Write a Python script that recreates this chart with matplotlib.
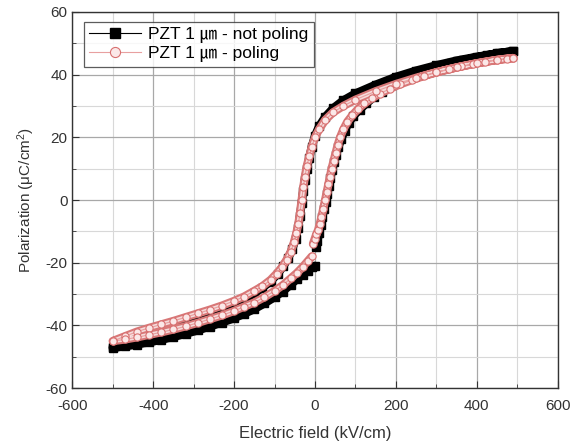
import matplotlib
matplotlib.use("Agg")
import matplotlib.pyplot as plt
from matplotlib.ticker import MultipleLocator

plt.rcParams['font.family'] = ['Liberation Sans', 'Noto Sans CJK KR', 'DejaVu Sans']
plt.rcParams['mathtext.fontset'] = 'custom'
plt.rcParams['mathtext.rm'] = 'Liberation Sans'
plt.rcParams['mathtext.it'] = 'Liberation Sans'
plt.rcParams['axes.unicode_minus'] = False

# ---- data: not poling (black squares), loop path order ----
np_E_up = [3, 6, 10, 14, 18, 22, 26, 30, 34, 38, 42, 47, 52, 58, 65, 73, 83, 95, 110, 127,
           145, 165, 190, 215, 245, 275, 305, 335, 365, 395, 425, 455, 480, 490]
np_P_up = [-15, -13, -10.5, -8, -5.5, -3, -0.5, 2, 4.5, 7, 9.5, 12, 14.5, 17, 19.5, 22, 24.5,
           26.8, 28.8, 30.8, 32.8, 34.6, 36.6, 38.2, 39.8, 41.2, 42.5, 43.7, 44.6, 45.4, 46.2,
           46.9, 47.3, 47.5]
np_E_down = [490, 450, 400, 350, 300, 250, 200, 150, 100, 70, 45, 25, 10, 0, -8, -14, -20, -25,
             -29, -33, -37, -42, -48, -56, -66, -78, -92, -110, -130, -150, -175, -200, -230,
             -260, -290, -320, -350, -380, -410, -440, -470, -500]
np_P_down = [47.5, 46.8, 45.7, 44.5, 43, 41.3, 39.3, 36.8, 34, 31.8, 29.3, 26.5, 23.5, 20.5, 17,
             13.5, 10, 6.5, 3, -1, -5, -9, -12.5, -15.5, -18.5, -21, -23.5, -26, -28, -29.8,
             -31.7, -33.3, -35, -36.5, -37.9, -39.2, -40.5, -41.8, -43, -44.3, -45.7, -47]
np_E_back = [-500, -470, -440, -410, -380, -350, -320, -290, -260, -230, -200, -175, -150,
             -125, -100, -80, -60, -45, -30, -18, -8, 0]
np_P_back = [-47.2, -46.7, -46.1, -45.4, -44.6, -43.7, -42.7, -41.6, -40.4, -39.1, -37.7,
             -36.3, -34.8, -33, -31, -29.2, -27, -25.3, -23.8, -22.5, -21.5, -21]

# ---- data: poling (pink open circles) ----
p_E_up = [-5, -1, 3, 8, 12, 16, 20, 25, 29, 33, 37, 41, 46, 51, 56, 62, 70, 80, 92, 106, 122,
          140, 160, 185, 210, 240, 270, 300, 330, 360, 390, 420, 450, 475, 490]
p_P_up = [-14, -12.5, -11, -9.5, -7.5, -5.5, -3, 0, 2.5, 5, 7.5, 10, 12.5, 15, 17.5, 20, 22.5,
          25, 27, 29, 30.8, 32.4, 33.9, 35.5, 36.9, 38.3, 39.6, 40.7, 41.7, 42.6, 43.4, 44.1,
          44.7, 45.1, 45.3]
p_E_down = [490, 450, 400, 350, 300, 250, 200, 150, 100, 70, 45, 25, 10, 0, -8, -14, -20, -25,
            -29, -33, -37, -41, -46, -52, -60, -70, -82, -95, -110, -130, -150, -175, -200,
            -230, -260, -290, -320, -350, -380, -410, -440, -470, -500]
p_P_down = [45.3, 44.7, 43.6, 42.3, 40.8, 39, 37, 34.7, 32, 30, 28, 25.5, 22.5, 20, 17, 14, 11,
            7.5, 4, 0, -4, -7.5, -10.5, -13.5, -16.5, -19, -21.5, -23.5, -25.5, -27.5, -29,
            -30.8, -32.2, -33.7, -35, -36.2, -37.4, -38.6, -39.7, -40.8, -42, -43.5, -45]
p_E_back = [-500, -470, -440, -410, -380, -350, -320, -290, -260, -230, -200, -175, -150, -125,
            -100, -80, -60, -45, -30, -18, -8]
p_P_back = [-45, -44.5, -43.8, -43, -42.2, -41.3, -40.3, -39.2, -38, -36.8, -35.4, -34, -32.7,
            -31, -29, -27.2, -25, -23.3, -21.3, -19.5, -18]

labels = ["PZT 1 \u339b - not poling", "PZT 1 \u339b - poling"]

fig = plt.figure(figsize=(5.78, 4.43), dpi=100)
ax = fig.add_axes([0.125, 0.124, 0.840, 0.849])

np_E = np_E_up + np_E_down + np_E_back
np_P = np_P_up + np_P_down + np_P_back
p_E = p_E_up + p_E_down + p_E_back
p_P = p_P_up + p_P_down + p_P_back

band = dict(solid_capstyle='round', solid_joinstyle='round')
# dense marker bands (drawn as thick strokes along the measured loop)
ax.plot(np_E, np_P, color='black', lw=6.0, zorder=3, **band)
ax.plot(np_E, np_P, color='black', lw=0.8, marker='s', ms=5.5, mfc='black', mec='black',
        label=labels[0], zorder=3)
ax.plot(p_E, p_P, color='#d87878', lw=6.0, zorder=4, **band)
ax.plot(p_E, p_P, color='#f6dcdc', lw=3.0, zorder=4, **band)
ax.plot(p_E, p_P, color='#e8a0a0', lw=0.8, marker='o', ms=5.2, mfc='#fbe8e8', mec='#d87070',
        mew=0.8, label=labels[1], zorder=5)

ax.set_xlim(-600, 600)
ax.set_ylim(-60, 60)
ax.xaxis.set_major_locator(MultipleLocator(200))
ax.xaxis.set_minor_locator(MultipleLocator(100))
ax.yaxis.set_major_locator(MultipleLocator(20))
ax.yaxis.set_minor_locator(MultipleLocator(10))
ax.grid(which='major', color='#a8a8a8', lw=0.9, zorder=0)
ax.grid(which='minor', color='#d8d8d8', lw=0.8, zorder=0)
ax.set_axisbelow(True)
ax.tick_params(which='both', direction='in', top=False, right=False, labelsize=11,
               colors='#333333')
ax.tick_params(axis='x', which='major', pad=8)
ax.tick_params(which='major', length=5)
ax.tick_params(which='minor', length=3)
for s in ax.spines.values():
    s.set_color('#333333')
    s.set_linewidth(1.0)

ax.set_xlabel("Electric field (kV/cm)", fontsize=12, color='#333333', labelpad=9)
ax.set_ylabel("Polarization (\u03bcC/cm$^2$)", fontsize=11, color='#333333', labelpad=6)

leg = ax.legend(loc='upper left', bbox_to_anchor=(0.006, 0.997), fontsize=12.5, frameon=True,
                fancybox=False, edgecolor='#333333', handlelength=3.0, borderpad=0.3,
                labelspacing=0.15, handletextpad=0.4, markerscale=1.4)
leg.get_frame().set_linewidth(0.9)

fig.savefig("out.png", dpi=100)
